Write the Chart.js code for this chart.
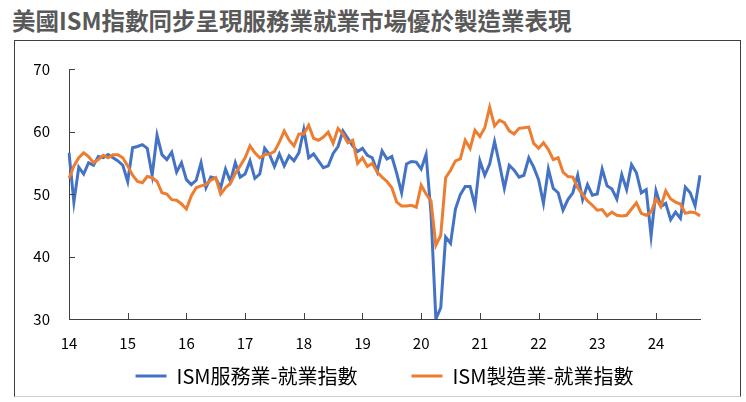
<!DOCTYPE html>
<html>
<head>
<meta charset="utf-8">
<script src="https://cdn.jsdelivr.net/npm/chart.js@4.4.1/dist/chart.umd.min.js"></script>
<style>
  body { margin: 0; width: 746px; height: 402px; background: #fff; position: relative; overflow: hidden; }
  #titulo { position: absolute; left: 12px; top: 3px; font: bold 23.5px "Noto Sans CJK TC", sans-serif; color: #595959; white-space: nowrap; }
  #marco { position: absolute; left: 14px; top: 40px; width: 725px; height: 355px; border: 1px solid #404040; border-bottom-color: #d0d0d0; }
  canvas { display: block; }
</style>
</head>
<body>
<div id="titulo">美國ISM指數同步呈現服務業就業市場優於製造業表現</div>
<div id="marco"><canvas id="grafico" width="725" height="355"></canvas></div>
<script>
// años del eje (2014 a 2024), datos mensuales de ene-2014 a oct-2024
const anios = ['14', '15', '16', '17', '18', '19', '20', '21', '22', '23', '24'];
const mesesPorAnio = [12, 12, 12, 12, 12, 12, 12, 12, 12, 12, 10];

const etiquetaServicios = 'ISM服務業-就業指數';
const etiquetaManufactura = 'ISM製造業-就業指數';

const servicios = [
    56.6, 48.7, 54.3, 53.2, 55.0, 54.6, 56.0, 55.8, 56.3, 55.8, 55.3, 54.6, // 2014
    52.0, 57.4, 57.6, 57.9, 57.3, 53.0, 59.4, 56.3, 55.5, 56.7, 53.5, 55.0, // 2015
    52.3, 51.5, 52.2, 55.0, 51.0, 52.7, 52.5, 51.0, 54.0, 52.0, 55.0, 52.7, // 2016
    53.2, 55.3, 52.5, 53.2, 57.3, 56.3, 54.4, 56.4, 54.5, 56.1, 55.3, 56.6, // 2017
    60.3, 55.8, 56.4, 55.3, 54.2, 54.5, 56.5, 57.6, 60.1, 58.9, 57.7, 56.8, // 2018
    57.3, 56.2, 55.8, 53.6, 56.9, 55.6, 56.0, 53.3, 50.2, 54.8, 55.2, 55.1, // 2019
    54.0, 56.3, 47.0, 30.0, 31.8, 43.1, 42.1, 47.6, 49.9, 51.2, 51.2, 48.1, // 2020
    55.3, 53.0, 54.8, 58.4, 54.8, 50.9, 54.6, 53.8, 52.7, 53.0, 55.8, 54.3, // 2021
    52.3, 48.5, 54.0, 50.9, 50.2, 47.4, 49.1, 50.2, 53.0, 49.1, 51.5, 49.8, // 2022
    50.0, 54.0, 51.3, 50.8, 49.2, 53.1, 50.7, 54.7, 53.4, 50.2, 50.7, 43.3, // 2023
    50.5, 48.0, 48.5, 45.9, 47.1, 46.1, 51.1, 50.2, 48.1, 53.0              // 2024
];

const manufactura = [
    52.5, 54.5, 55.8, 56.6, 56.0, 55.0, 55.5, 56.2, 55.8, 56.3, 56.3, 55.8, // 2014
    54.5, 53.0, 52.0, 51.8, 52.8, 52.6, 52.0, 50.2, 50.0, 49.1, 49.0, 48.4, // 2015
    47.6, 49.7, 51.0, 51.3, 51.5, 52.2, 52.6, 50.0, 51.0, 51.7, 53.3, 54.5, // 2016
    55.8, 57.7, 56.6, 55.8, 56.3, 56.4, 56.8, 58.3, 60.1, 58.6, 57.7, 59.6, // 2017
    59.6, 61.0, 58.9, 58.6, 59.1, 59.9, 58.1, 60.5, 59.6, 58.2, 58.6, 54.9, // 2018
    55.8, 54.4, 54.9, 53.5, 52.7, 52.0, 51.0, 48.7, 48.1, 48.1, 48.2, 47.9, // 2019
    51.4, 50.0, 48.9, 41.8, 43.4, 52.6, 53.8, 55.3, 55.6, 58.6, 57.3, 60.2, // 2020
    59.2, 60.6, 63.9, 60.9, 61.8, 61.4, 60.1, 59.6, 60.5, 60.6, 60.7, 58.1, // 2021
    57.3, 58.2, 57.1, 55.5, 55.8, 53.5, 52.8, 52.7, 51.0, 49.9, 48.9, 48.2, // 2022
    47.4, 47.5, 46.5, 47.1, 46.6, 46.5, 46.6, 47.6, 48.6, 46.9, 46.6, 47.1, // 2023
    49.2, 48.0, 50.5, 49.2, 48.7, 48.4, 46.9, 47.1, 47.0, 46.5              // 2024
];

// una etiqueta por mes, solo se muestra el año en enero
const etiquetas = [];
anios.forEach((a, k) => {
    for (let m = 1; m <= mesesPorAnio[k]; m++) {
        etiquetas.push(a + '-' + String(m).padStart(2, '0'));
    }
});

const colorEje = '#404040';
const fuente = '"Noto Sans CJK TC", "Noto Sans", sans-serif';

// marcas de los ejes hacia adentro, como en el original
const marcasInternas = {
    id: 'marcasInternas',
    afterDatasetsDraw(chart) {
        const { ctx, chartArea, scales: { x, y } } = chart;
        ctx.save();
        ctx.strokeStyle = colorEje;
        ctx.lineWidth = 1;
        ctx.beginPath();
        y.ticks.forEach(t => {
            const py = Math.round(y.getPixelForValue(t.value)) + 0.5;
            ctx.moveTo(chartArea.left, py);
            ctx.lineTo(chartArea.left + 6, py);
        });
        etiquetas.forEach((e, i) => {
            if (i > 0 && i % 12 === 0) {
                const px = Math.round(x.getPixelForValue(i)) + 0.5;
                ctx.moveTo(px, chartArea.bottom);
                ctx.lineTo(px, chartArea.bottom - 6);
            }
        });
        ctx.stroke();
        ctx.restore();
    }
};

new Chart(document.getElementById('grafico'), {
    type: 'line',
    data: {
        labels: etiquetas,
        datasets: [
            {
                label: etiquetaServicios,
                data: servicios,
                borderColor: '#4472C4',
                backgroundColor: '#4472C4',
                borderWidth: 3,
                pointRadius: 0,
                tension: 0,
                order: 1
            },
            {
                label: etiquetaManufactura,
                data: manufactura,
                borderColor: '#ED7D31',
                backgroundColor: '#ED7D31',
                borderWidth: 3,
                pointRadius: 0,
                tension: 0,
                order: 0
            }
        ]
    },
    options: {
        responsive: false,
        animation: false,
        layout: { padding: { left: 0, right: 40, top: 16, bottom: 0 } },
        scales: {
            x: {
                grid: { display: false, drawTicks: false },
                border: { display: true, color: colorEje, width: 1 },
                ticks: {
                    autoSkip: false,
                    maxRotation: 0,
                    padding: 15,
                    color: '#000',
                    font: { family: fuente, size: 15 },
                    callback: function (valor, i) {
                        return i % 12 === 0 ? etiquetas[i].slice(0, 2) : null;
                    }
                },
                afterFit: function (escala) { escala.height = 37; }
            },
            y: {
                min: 30,
                max: 70,
                grid: { display: false, drawTicks: false },
                border: { display: true, color: colorEje, width: 1 },
                ticks: {
                    stepSize: 10,
                    padding: 19,
                    color: '#000',
                    font: { family: fuente, size: 15 }
                },
                afterFit: function (escala) { escala.width = 54; }
            }
        },
        plugins: {
            legend: {
                position: 'bottom',
                fullSize: false,
                labels: {
                    boxWidth: 31,
                    boxHeight: 3,
                    padding: 10,
                    color: '#000',
                    font: { family: fuente, size: 20 },
                    sort: (a, b) => a.datasetIndex - b.datasetIndex,
                    generateLabels: function (chart) {
                        const items = Chart.defaults.plugins.legend.labels.generateLabels(chart);
                        return items.map(it => {
                            it.lineWidth = 0;
                            if (it.datasetIndex === 0) it.text = it.text + '\u3000\u3000\u2009';
                            return it;
                        });
                    }
                }
            },
            tooltip: { enabled: false }
        }
    },
    plugins: [marcasInternas]
});
</script>
</body>
</html>
